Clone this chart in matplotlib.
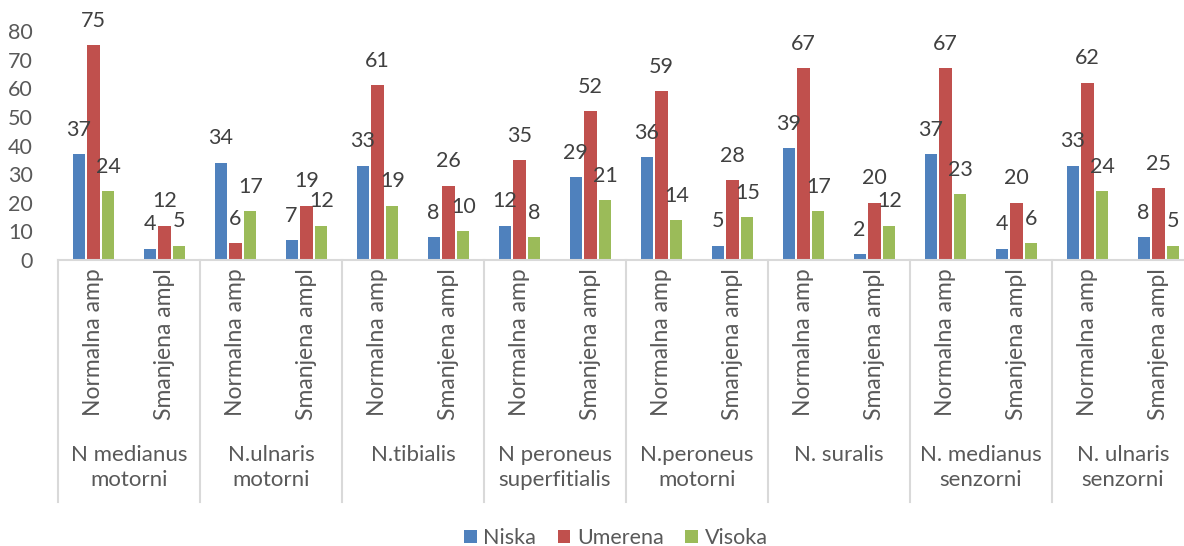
import numpy as np
import matplotlib.pyplot as plt
import matplotlib.transforms as mtransforms

plt.rcParams['font.family'] = ['Lato', 'DejaVu Sans']

groups = ["N medianus\nmotorni", "N.ulnaris\nmotorni", "N.tibialis", "N peroneus\nsuperfitialis",
          "N.peroneus\nmotorni", "N. suralis", "N. medianus\nsenzorni", "N. ulnaris\nsenzorni"]
subcats = ["Normalna amp", "Smanjena ampl"]
niska = [37, 4, 34, 7, 33, 8, 12, 29, 36, 5, 39, 2, 37, 4, 33, 8]
umerena = [75, 12, 6, 19, 61, 26, 35, 52, 59, 28, 67, 20, 67, 20, 62, 25]
visoka = [24, 5, 17, 12, 19, 10, 8, 21, 14, 15, 17, 12, 23, 6, 24, 5]

series = [("Niska", niska, "#4F81BD"), ("Umerena", umerena, "#C0504D"), ("Visoka", visoka, "#9BBB59")]
txt = "#595959"
grid = "#D9D9D9"

fig = plt.figure(figsize=(11.84, 5.46), dpi=100)
ax = fig.add_axes([58 / 1184, 1 - 260 / 546, 1136 / 1184, 229 / 546])

x = np.arange(len(niska))
step = 0.21
width = 0.17
for k, (name, vals, col) in enumerate(series):
    pos = x + (k - 1) * step
    ax.bar(pos, vals, width, color=col, label=name, zorder=2)
    for p, v in zip(pos, vals):
        ax.annotate(str(v), (p, v), xytext=(0, 17.5), textcoords="offset points",
                    ha="center", va="center", fontsize=15.5, color="#404040", annotation_clip=False)

ax.set_xlim(-0.5, len(niska) - 0.5)
ax.set_ylim(0, 80)
ax.set_yticks(range(0, 81, 10))
ax.tick_params(axis="y", length=0, labelsize=15.5, labelcolor=txt, pad=18)
ax.set_xticks([])
for s in ["left", "right", "top"]:
    ax.spines[s].set_visible(False)
ax.spines["bottom"].set_color(grid)
ax.spines["bottom"].set_linewidth(1.5)

trans = mtransforms.blended_transform_factory(ax.transData, ax.transAxes)
for i in x:
    ax.text(i, -0.035, subcats[i % 2], rotation=90, ha="center", va="top",
            fontsize=16.5, color=txt, transform=trans)
for g, name in enumerate(groups):
    ax.text(2 * g + 0.5, -0.81, name, ha="center", va="top", fontsize=16, color=txt,
            transform=trans, linespacing=1.3)
for b in range(len(groups) + 1):
    ax.plot([2 * b - 0.5, 2 * b - 0.5], [0, -1.057], color=grid, lw=1.5,
            transform=trans, clip_on=False)

fig.legend(loc="center", bbox_to_anchor=(0.52, 1 - 538 / 546), ncol=3, frameon=False,
           fontsize=15.5, handlelength=0.6, handleheight=0.6, handletextpad=0.3,
           columnspacing=1.0, labelcolor=txt)

fig.savefig("out.png", dpi=100)
